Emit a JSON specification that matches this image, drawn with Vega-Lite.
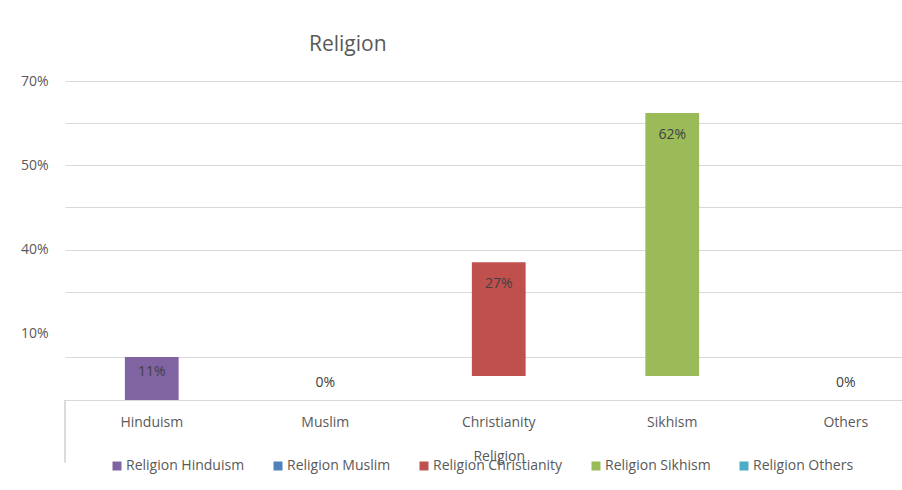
{
  "$schema": "https://vega.github.io/schema/vega-lite/v6.json",
  "width": 837,
  "height": 319,
  "autosize": "none",
  "padding": {"left": 65, "top": 81, "right": 0, "bottom": 90},
  "background": "white",
  "config": {"font": "Open Sans", "view": {"stroke": null}},
  "title": {"text": "Religion", "anchor": "start", "frame": "group", "dx": 244, "offset": 19, "fontSize": 21, "fontWeight": "normal", "color": "#595959"},
  "data": {"values": [
    {"religion": "Hinduism", "series": "Religion Hinduism", "share": 0.11, "start": -5.7, "end": 4.5},
    {"religion": "Muslim", "series": "Religion Muslim", "share": 0, "start": 0, "end": 0},
    {"religion": "Christianity", "series": "Religion Christianity", "share": 0.27, "start": 0, "end": 27},
    {"religion": "Sikhism", "series": "Religion Sikhism", "share": 0.62, "start": 0, "end": 62.4},
    {"religion": "Others", "series": "Religion Others", "share": 0, "start": 0, "end": 0}
  ]},
  "encoding": {
    "x": {
      "field": "religion", "type": "nominal", "sort": null, "title": "Religion",
      "scale": {"range": [0, 867.5], "padding": 0},
      "axis": {"labelAngle": 0, "ticks": false, "grid": false, "domainColor": "#d9d9d9", "labelColor": "#595959", "labelFontSize": 14, "labelPadding": 15, "titleColor": "#595959", "titleFontSize": 14, "titleFontWeight": "normal", "titlePadding": 20}
    }
  },
  "layer": [
    {
      "mark": {"type": "bar", "width": {"band": 0.31}},
      "encoding": {
        "y": {
          "field": "start", "type": "quantitative", "title": null,
          "scale": {"domain": [-5.7, 70], "nice": false, "zero": false},
          "axis": {
            "values": [4.5, 10, 20, 30, 40, 50, 60, 70],
            "labelExpr": "datum.value == 70 ? '70%' : datum.value == 50 ? '50%' : datum.value == 30 ? '40%' : datum.value == 10 ? '10%' : ''",
            "domain": false, "ticks": false, "labelPadding": 17, "labelFontSize": 14, "labelColor": "#595959",
            "gridColor": {"condition": {"test": "datum.value == 10", "value": "transparent"}, "value": "#d9d9d9"},
            "gridWidth": 1
          }
        },
        "y2": {"field": "end"},
        "color": {
          "field": "series", "type": "nominal",
          "scale": {"domain": ["Religion Hinduism", "Religion Muslim", "Religion Christianity", "Religion Sikhism", "Religion Others"], "range": ["#8064A2", "#4F81BD", "#C0504D", "#9BBB59", "#4BACC6"]},
          "legend": {"orient": "none", "legendX": 45, "legendY": 378, "direction": "horizontal", "title": null, "padding": 0, "columnPadding": 26, "labelOffset": 2, "symbolType": "square", "symbolSize": 81, "symbolStrokeWidth": 0, "labelFontSize": 14, "labelColor": "#595959"}
        }
      }
    },
    {
      "transform": [{"filter": "datum.share > 0 && datum.religion != 'Hinduism'"}],
      "mark": {"type": "text", "baseline": "middle", "dy": 22, "fontSize": 14, "color": "#404040"},
      "encoding": {"y": {"field": "end", "type": "quantitative"}, "text": {"field": "share", "type": "quantitative", "format": ".0%"}}
    },
    {
      "transform": [{"filter": "datum.religion == 'Hinduism'"}],
      "mark": {"type": "text", "baseline": "middle", "dy": 15, "fontSize": 14, "color": "#404040"},
      "encoding": {"y": {"field": "end", "type": "quantitative"}, "text": {"field": "share", "type": "quantitative", "format": ".0%"}}
    },
    {
      "transform": [{"filter": "datum.share == 0"}],
      "mark": {"type": "text", "baseline": "middle", "dy": 7, "fontSize": 14, "color": "#404040"},
      "encoding": {"y": {"field": "end", "type": "quantitative"}, "text": {"field": "share", "type": "quantitative", "format": ".0%"}}
    },
    {
      "mark": {"type": "rule", "color": "#d9d9d9", "strokeWidth": 1},
      "encoding": {"x": {"datum": "Hinduism", "bandPosition": 0}, "y": {"datum": -5.7}, "y2": {"datum": -20.5}}
    }
  ]
}
